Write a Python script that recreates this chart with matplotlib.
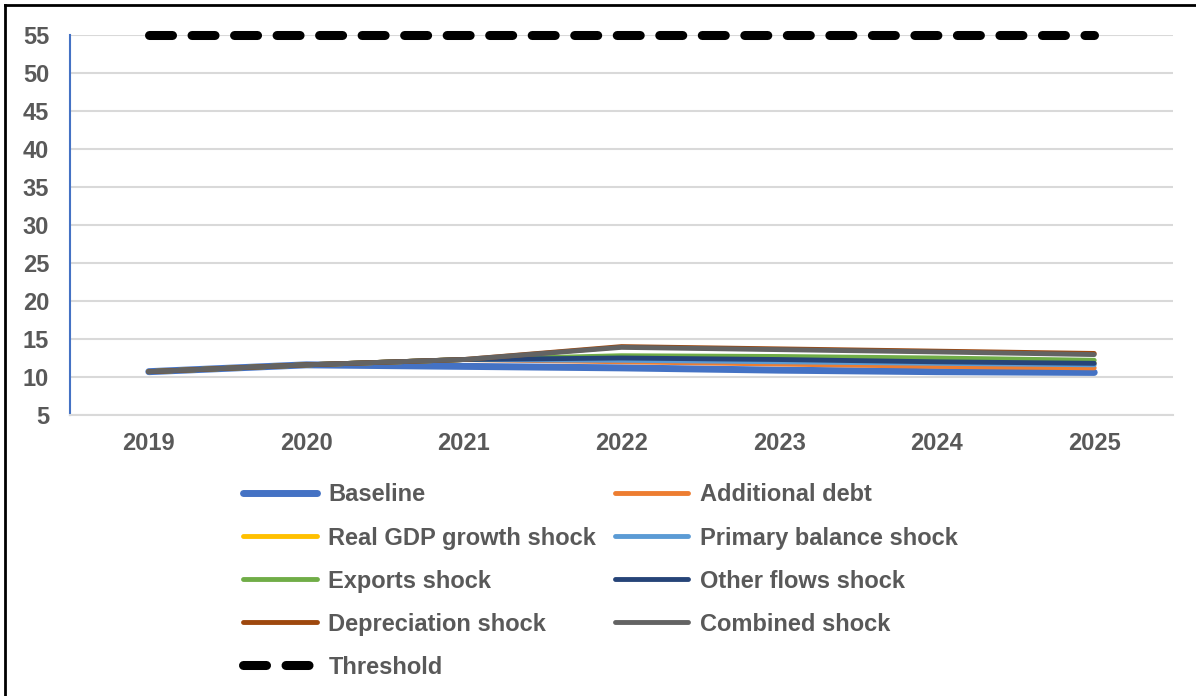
import numpy as np
import matplotlib.pyplot as plt
from matplotlib.lines import Line2D

# chart data
years = ['2019', '2020', '2021', '2022', '2023', '2024', '2025']
baseline = [10.7, 11.6, 11.4, 11.2, 10.9, 10.7, 10.6]
additional_debt = [10.7, 11.6, 12.3, 12.0, 11.7, 11.4, 11.2]
real_gdp = [10.7, 11.6, 12.3, 12.5, 12.3, 12.0, 11.8]
primary_balance = [10.7, 11.6, 12.3, 12.2, 12.0, 11.8, 11.6]
exports = [10.7, 11.6, 12.3, 12.8, 12.7, 12.5, 12.2]
other_flows = [10.7, 11.6, 12.3, 12.5, 12.3, 12.0, 11.8]
depreciation = [10.7, 11.6, 12.3, 14.0, 13.7, 13.4, 13.1]
combined = [10.7, 11.6, 12.3, 13.9, 13.6, 13.3, 12.95]
threshold = [55, 55, 55, 55, 55, 55, 55]

text_col = '#595959'
fs = 17
plt.rcParams['font.family'] = ['Liberation Sans', 'DejaVu Sans']
plt.rcParams['font.weight'] = 'bold'

fig = plt.figure(figsize=(11.96, 6.96), dpi=100)
ax = fig.add_axes([70/1196, 1 - 415/696, (1173-70)/1196, (415-35)/696])

x = np.arange(len(years))
series = [
    ('Baseline', baseline, '#4472C4', 5),
    ('Additional debt', additional_debt, '#ED7D31', 3.5),
    ('Real GDP growth shock', real_gdp, '#FFC000', 3.5),
    ('Primary balance shock', primary_balance, '#5B9BD5', 3.5),
    ('Exports shock', exports, '#70AD47', 3.5),
    ('Other flows shock', other_flows, '#264478', 3.5),
    ('Depreciation shock', depreciation, '#9E480E', 3.5),
    ('Combined shock', combined, '#636363', 3.5),
]
handles = {}
for name, vals, col, lw in series:
    ln, = ax.plot(x, vals, color=col, lw=lw, solid_capstyle='round', label=name)
    handles[name] = ln

th, = ax.plot(x, threshold, color='black', lw=6.5, ls=(0, (2.55, 2.16)),
              dash_capstyle='round', clip_on=False, label='Threshold')
handles['Threshold'] = th

ax.set_xlim(-0.5, 6.5)
ax.set_ylim(5, 55)
ax.set_yticks(np.arange(5, 56, 5))
ax.set_xticks(x)
ax.set_xticklabels(years)
ax.grid(axis='y', color='#d9d9d9', lw=1.5)
ax.set_axisbelow(True)
for s in ['top', 'right']:
    ax.spines[s].set_visible(False)
ax.spines['bottom'].set_color('#d9d9d9')
ax.spines['bottom'].set_linewidth(1.5)
ax.spines['left'].set_color('#4472C4')
ax.spines['left'].set_linewidth(1.5)
ax.tick_params(length=0, labelsize=fs, labelcolor=text_col)
ax.tick_params(axis='x', pad=12)
ax.tick_params(axis='y', pad=15)

order = ['Baseline', 'Real GDP growth shock', 'Exports shock', 'Depreciation shock', 'Threshold',
         'Additional debt', 'Primary balance shock', 'Other flows shock', 'Combined shock']
leg = fig.legend([handles[n] for n in order], order, ncol=2, loc='upper left',
                 bbox_to_anchor=(234/1196, 1 - 474/696), frameon=False,
                 prop={'size': fs, 'weight': 'bold'}, handlelength=3.1,
                 handletextpad=0.5, labelspacing=0.85, columnspacing=0.8,
                 borderaxespad=0, borderpad=0.4)
for t in leg.get_texts():
    t.set_color(text_col)

# outer frame (top and left edges visible)
fig.add_artist(Line2D([5/1196, 1], [1 - 5/696, 1 - 5/696], color='black', lw=2))
fig.add_artist(Line2D([5/1196, 5/1196], [0, 1 - 5/696], color='black', lw=2))

fig.savefig('out.png', dpi=100)
